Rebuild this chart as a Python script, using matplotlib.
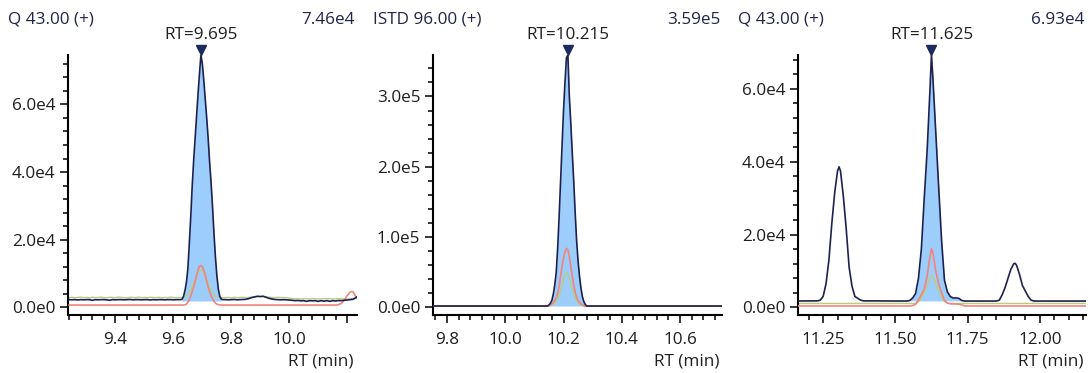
import numpy as np
import matplotlib
matplotlib.use("Agg")
import matplotlib.pyplot as plt
from matplotlib.ticker import FixedLocator
from matplotlib.transforms import ScaledTranslation, blended_transform_factory

plt.rcParams['font.family'] = ['Open Sans', 'DejaVu Sans']

# ---------------- Panel 1 : Q 43.00 (+) ----------------
p1_title = 'Q 43.00 (+)'
p1_max_label = '7.46e4'
p1_rt_label = 'RT=9.695'
p1_peak_rt = 9.695
p1_max = 74600
p1_xlim = (9.236, 10.234)
p1_xticks = [9.4, 9.6, 9.8, 10.0, 10.2]
p1_xticklabels = ['9.4', '9.6', '9.8', '10.0', '']
p1_yticks = [0, 20000, 40000, 60000]
p1_yticklabels = ['0.0e0', '2.0e4', '4.0e4', '6.0e4']

p1_rt_a = np.round(np.arange(9.24, 9.6251, 0.01), 3)          # 39 samples
p1_navy_a = [2300, 2250, 2300, 2200, 2300, 2250, 2300, 2300, 2100, 2300,
             2250, 2300, 2300, 2250, 2100, 2300, 2250, 2300, 2300, 2250,
             2300, 2350, 2250, 2300, 2300, 2250, 2300, 2300, 2200, 2300,
             2250, 2300, 2300, 2250, 2300, 2300, 2250, 2300, 2300]
p1_green_a = [2900, 3000, 2850, 2950, 3050, 2900, 2950, 2850, 3000, 2900,
              2950, 3050, 2900, 2850, 3000, 2950, 2900, 3050, 2950, 2900,
              2850, 3000, 2950, 2900, 3050, 2900, 2950, 2850, 3000, 2950,
              2900, 3000, 2850, 2950, 2900, 3050, 2950, 2900, 2950]

p1_rt_b = np.round(np.arange(9.625, 9.7726, 0.005), 3)        # 30 samples
p1_navy_b = [2300, 2400, 3300, 5000, 7500, 11500, 19000, 27000, 36000, 43500,
             50000, 56500, 63000, 69000, 74600, 72000, 67000, 61500, 56000, 50000,
             43000, 37000, 30000, 22000, 15000, 9500, 5500, 3300, 2500, 2300]
p1_green_b = [2900, 2950, 3000, 3100, 3400, 3800, 4400, 5200, 6200, 7200,
              8200, 9300, 10200, 11000, 11200, 10900, 10200, 9100, 8000, 6900,
              5900, 5000, 4300, 3800, 3400, 3100, 3000, 2900, 2950, 2900]
p1_red_b = [700, 700, 700, 800, 1000, 1500, 2300, 3500, 4700, 6000,
            7700, 9500, 11000, 12200, 12400, 12000, 11000, 9500, 7800, 6000,
            4700, 3500, 2600, 1800, 1300, 1000, 850, 750, 700, 700]

p1_rt_c = np.round(np.arange(9.78, 10.2451, 0.01), 3)         # 47 samples
p1_navy_c = [2300, 2250, 2300, 2350, 2250, 2300, 2350, 2400, 2600, 2900,
             3100, 3300, 3200, 3300, 3000, 2700, 2500, 2350, 2300, 2250,
             2300, 2250, 2200, 2100, 2000, 2050, 1950, 2000, 1800, 2000,
             1950, 2000, 1800, 2000, 1850, 2000, 1800, 2000, 1900, 2050,
             2000, 2100, 2200, 2300, 2400, 2900, 3500]
p1_green_c = [2900, 2950, 2850, 3000, 2900, 2950, 3000, 2900, 2950, 3050,
              3100, 3200, 3300, 3250, 3100, 3000, 2950, 2900, 3000, 2900,
              2950, 2850, 2750, 2650, 2550, 2600, 2500, 2550, 2600, 2500,
              2550, 2600, 2550, 2500, 2550, 2600, 2550, 2500, 2550, 2600,
              2550, 2500, 2450, 2500, 2550, 2650, 2800]
p1_rt_red_tail = [9.78, 10.16, 10.17, 10.18, 10.19, 10.20, 10.21, 10.215, 10.22, 10.225, 10.23, 10.24]
p1_red_tail = [700, 700, 800, 1200, 2200, 3500, 4500, 4700, 4600, 4000, 3000, 2400]
p1_fill_range = (9.630, 9.765)
p1_fill_base = 1900

# ---------------- Panel 2 : ISTD 96.00 (+) ----------------
p2_title = 'ISTD 96.00 (+)'
p2_max_label = '3.59e5'
p2_rt_label = 'RT=10.215'
p2_peak_rt = 10.215
p2_max = 359000
p2_xlim = (9.752, 10.744)
p2_xticks = [9.8, 10.0, 10.2, 10.4, 10.6]
p2_xticklabels = ['9.8', '10.0', '10.2', '10.4', '10.6']
p2_yticks = [0, 100000, 200000, 300000]
p2_yticklabels = ['0.0e0', '1.0e5', '2.0e5', '3.0e5']

p2_rt_peak = np.round(np.arange(10.145, 10.2801, 0.005), 3)   # 28 samples
p2_navy_peak = [2000, 3500, 6000, 10000, 19000, 32000, 50000, 85000, 130000, 180000,
                230000, 280000, 320000, 355000, 359000, 300000, 262000, 220000, 180000, 135000,
                95000, 66000, 44000, 27000, 15000, 8000, 4000, 2000]
p2_red_peak = [2000, 2500, 3500, 5000, 7000, 10000, 14000, 20000, 30000, 45000,
               58000, 70000, 79000, 84000, 82000, 72000, 58000, 45000, 32000, 22000,
               15000, 10000, 7000, 5000, 3500, 2500, 2000, 2000]
p2_green_peak = [2000, 2300, 3000, 4000, 5500, 7000, 9000, 12000, 17000, 24000,
                 32000, 41000, 47000, 49000, 47500, 41000, 33000, 26000, 19000, 14000,
                 10000, 7000, 5000, 3800, 3000, 2500, 2100, 2000]
p2_rt_ends = [9.70, 10.80]
p2_base = [2000, 2000]
p2_fill_range = (10.150, 10.280)
p2_fill_base = 2000

# ---------------- Panel 3 : Q 43.00 (+) ----------------
p3_title = 'Q 43.00 (+)'
p3_max_label = '6.93e4'
p3_rt_label = 'RT=11.625'
p3_peak_rt = 11.625
p3_max = 69300
p3_xlim = (11.163, 12.160)
p3_xticks = [11.25, 11.50, 11.75, 12.00]
p3_xticklabels = ['11.25', '11.50', '11.75', '12.00']
p3_yticks = [0, 20000, 40000, 60000]
p3_yticklabels = ['0.0e0', '2.0e4', '4.0e4', '6.0e4']

p3_rt_navy = [11.10, 11.23, 11.24, 11.25, 11.26, 11.27, 11.28, 11.29, 11.30, 11.305,
              11.31, 11.32, 11.33, 11.34, 11.35, 11.36, 11.37, 11.38, 11.39, 11.54,
              11.55, 11.56, 11.57, 11.58, 11.59, 11.60, 11.61, 11.62, 11.625, 11.63,
              11.64, 11.65, 11.66, 11.67, 11.68, 11.69, 11.70, 11.71, 11.72, 11.73,
              11.74, 11.85, 11.86, 11.87, 11.88, 11.89, 11.90, 11.91, 11.915, 11.92,
              11.93, 11.94, 11.95, 11.96, 11.97, 11.98, 12.20]
p3_navy = [1750, 1800, 2000, 3000, 6500, 13000, 23000, 31500, 37500, 38600,
           37500, 30500, 21500, 11000, 5800, 3000, 2500, 2000, 1800, 1750,
           1900, 2600, 3800, 8000, 16000, 30000, 43000, 60000, 69300, 63000,
           48000, 33000, 18500, 7500, 4300, 3000, 2600, 2600, 2500, 1900,
           1750, 1750, 2000, 3500, 5500, 8000, 10500, 12000, 12100, 11500,
           9000, 6000, 4500, 3000, 2000, 1750, 1750]
p3_rt_red = [11.10, 11.55, 11.56, 11.57, 11.58, 11.59, 11.60, 11.61, 11.62, 11.625,
             11.63, 11.64, 11.65, 11.66, 11.67, 11.68, 11.69, 11.72, 11.73, 11.74, 12.20]
p3_red = [400, 400, 500, 900, 2000, 3500, 5000, 8500, 14000, 16100,
          15000, 10000, 6500, 4000, 2000, 1200, 1000, 900, 700, 400, 400]
p3_rt_green = [11.10, 11.57, 11.58, 11.59, 11.60, 11.61, 11.62, 11.625, 11.63, 11.64,
               11.65, 11.66, 11.67, 11.68, 11.69, 12.20]
p3_green = [1100, 1100, 1500, 2500, 4000, 6000, 8200, 8800, 8300, 6500,
            4700, 2800, 1600, 1200, 1100, 1100]
p3_fill_range = (11.550, 11.730)
p3_fill_base = 1800

# ---------------- styling ----------------
NAVY = '#1c2150'
MARK = '#1b2b5e'
RED = '#f2847c'
GREEN = '#b9cd82'
FILL = '#9ccdfb'
TITLE_C = '#22244a'
TICK_C = '#1e1e1e'
FS = 12.3

W, H = 1090, 373
fig = plt.figure(figsize=(W / 100, H / 100), dpi=100)


def off(dx, dy):
    return ScaledTranslation(dx / 100, dy / 100, fig.dpi_scale_trans)


def make_panel(left, right, title, max_label, rt_label, peak_rt, ymax, xlim,
               xticks, xticklabels, yticks, yticklabels, minor_x, minor_y,
               traces, fill):
    top, bottom = 55, 315
    ax = fig.add_axes([left / W, 1 - bottom / H, (right - left) / W, (bottom - top) / H])
    frt, fval, (f0, f1), fbase = fill
    frt = np.asarray(frt); fval = np.asarray(fval)
    m = (frt >= f0 - 1e-9) & (frt <= f1 + 1e-9)
    ax.fill_between(frt[m], fval[m], fbase, color=FILL, lw=0, zorder=1)
    for rt, val, col, lw, z in traces:
        ax.plot(rt, val, color=col, lw=lw, zorder=z, solid_joinstyle='round')
    ax.set_xlim(*xlim)
    ax.set_ylim(-0.03 * ymax, ymax)
    for s in ('top', 'right'):
        ax.spines[s].set_visible(False)
    for s in ('left', 'bottom'):
        ax.spines[s].set_linewidth(1.5)
        ax.spines[s].set_color('black')
    ax.set_xticks(xticks, labels=xticklabels)
    ax.set_yticks(yticks, labels=yticklabels)
    ax.xaxis.set_minor_locator(FixedLocator(minor_x))
    ax.yaxis.set_minor_locator(FixedLocator(minor_y))
    ax.tick_params(which='major', length=5.6, width=1.1, direction='out',
                   labelsize=FS, labelcolor=TICK_C)
    ax.tick_params(which='minor', length=3.6, width=1.1, direction='out')
    ax.tick_params(axis='x', which='major', pad=6.5)
    ax.tick_params(axis='y', which='major', pad=3.5)
    fig.text((left - 60) / W, 1 - 23.5 / H, title, ha='left', va='baseline',
             fontsize=FS, color=TITLE_C)
    fig.text((right - 2) / W, 1 - 23.5 / H, max_label, ha='right', va='baseline',
             fontsize=FS, color=TITLE_C)
    bt = blended_transform_factory(ax.transData, ax.transAxes)
    ax.text(peak_rt, 1.0, rt_label, transform=bt + off(0, 16), ha='center',
            va='baseline', fontsize=FS, color=TICK_C, clip_on=False)
    ax.plot([peak_rt], [ymax], marker='v', ms=7.8, color=MARK, mec=MARK,
            transform=ax.transData + off(0, 5), clip_on=False, zorder=6)
    ax.text(1.0, 0.0, 'RT (min)', transform=ax.transAxes + off(-3, -50),
            ha='right', va='baseline', fontsize=FS, color=TICK_C)
    return ax


# panel 1
p1_rt_navy = np.concatenate([p1_rt_a, p1_rt_b, p1_rt_c])
p1_navy = np.concatenate([p1_navy_a, p1_navy_b, p1_navy_c])
p1_green = np.concatenate([p1_green_a, p1_green_b, p1_green_c])
p1_rt_red = np.concatenate([[9.24, 9.62], p1_rt_b, p1_rt_red_tail])
p1_red = np.concatenate([[700, 700], p1_red_b, p1_red_tail])
make_panel(68, 357, p1_title, p1_max_label, p1_rt_label, p1_peak_rt, p1_max, p1_xlim,
           p1_xticks, p1_xticklabels, p1_yticks, p1_yticklabels,
           np.round(np.arange(9.24, 10.24, 0.04), 3), np.arange(0, 76000, 4000),
           [(p1_rt_navy, p1_green, GREEN, 1.0, 2),
            (p1_rt_red, p1_red, RED, 1.2, 3),
            (p1_rt_navy, p1_navy, NAVY, 1.2, 4)],
           (p1_rt_navy, p1_navy, p1_fill_range, p1_fill_base))

# panel 2
p2_rt = np.concatenate([[p2_rt_ends[0]], p2_rt_peak, [p2_rt_ends[1]]])
p2_navy = np.concatenate([[p2_base[0]], p2_navy_peak, [p2_base[1]]])
p2_red = np.concatenate([[p2_base[0]], p2_red_peak, [p2_base[1]]])
p2_green = np.concatenate([[p2_base[0]], p2_green_peak, [p2_base[1]]])
make_panel(433, 722, p2_title, p2_max_label, p2_rt_label, p2_peak_rt, p2_max, p2_xlim,
           p2_xticks, p2_xticklabels, p2_yticks, p2_yticklabels,
           np.round(np.arange(9.76, 10.76, 0.04), 3), np.arange(0, 370000, 20000),
           [(p2_rt, p2_green, GREEN, 1.0, 2),
            (p2_rt, p2_red, RED, 1.2, 3),
            (p2_rt, p2_navy, NAVY, 1.2, 4)],
           (p2_rt, p2_navy, p2_fill_range, p2_fill_base))

# panel 3
make_panel(798, 1086, p3_title, p3_max_label, p3_rt_label, p3_peak_rt, p3_max, p3_xlim,
           p3_xticks, p3_xticklabels, p3_yticks, p3_yticklabels,
           np.round(np.arange(11.20, 12.17, 0.05), 3), np.arange(0, 70000, 4000),
           [(p3_rt_green, p3_green, GREEN, 1.0, 2),
            (p3_rt_red, p3_red, RED, 1.2, 3),
            (p3_rt_navy, p3_navy, NAVY, 1.2, 4)],
           (p3_rt_navy, p3_navy, p3_fill_range, p3_fill_base))

fig.savefig('out.png', dpi=100)
